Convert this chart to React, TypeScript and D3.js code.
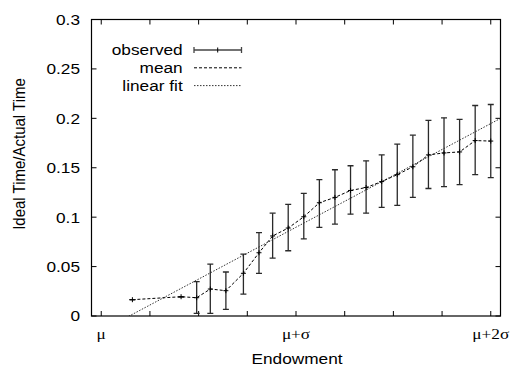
import * as d3 from "d3";

// x in units of sigma above the mean endowment
const endowment = [0.16, 0.41, 0.49, 0.56, 0.64, 0.73, 0.81, 0.88, 0.96, 1.04, 1.12, 1.2, 1.28, 1.36, 1.44, 1.52, 1.6, 1.68, 1.76, 1.84, 1.92, 2.0];
const meanRatio = [0.0165, 0.0195, 0.0185, 0.0273, 0.0256, 0.0432, 0.064, 0.081, 0.089, 0.1004, 0.1146, 0.12, 0.127, 0.13, 0.136, 0.143, 0.151, 0.163, 0.165, 0.166, 0.1775, 0.177];
const lowRatio = [0.0165, 0.0195, 0.0027, 0.0027, 0.0067, 0.0222, 0.0432, 0.0586, 0.066, 0.078, 0.0897, 0.093, 0.103, 0.104, 0.11, 0.112, 0.12, 0.129, 0.131, 0.133, 0.143, 0.14];
const highRatio = [0.0165, 0.0195, 0.0347, 0.0525, 0.0445, 0.0627, 0.0843, 0.104, 0.113, 0.124, 0.138, 0.148, 0.152, 0.157, 0.163, 0.174, 0.183, 0.198, 0.2005, 0.199, 0.213, 0.214];

const fitSlope = 0.1049;
const fitIntercept = -0.0151;

const yTicks = [0, 0.05, 0.1, 0.15, 0.2, 0.25, 0.3];
const xTicks = [0, 0.25, 0.5, 0.75, 1, 1.25, 1.5, 1.75, 2];
const xTickLabels = [
  { v: 0, label: "μ" },
  { v: 1, label: "μ+σ" },
  { v: 2, label: "μ+2σ" },
];
const legendItems = ["observed", "mean", "linear fit"];

const W = 512;
const H = 366;
const left = 91.5;
const right = 500.5;
const top = 19.5;
const bottom = 316;
const sx = 1.15; // text looks horizontally stretched in the reference
const sans = "'Liberation Sans', Arial, Helvetica, sans-serif";
const serif = "'Liberation Serif', 'Times New Roman', serif";

export default function App() {
  const x = d3.scaleLinear().domain([-0.05, 2.05]).range([left, right]);
  const y = d3.scaleLinear().domain([0, 0.3]).range([bottom, top]);

  const pts = endowment.map((e, i) => ({
    e,
    m: meanRatio[i],
    lo: lowRatio[i],
    hi: highRatio[i],
  }));

  const meanLine = d3
    .line<{ e: number; m: number }>()
    .x((d) => x(d.e))
    .y((d) => y(d.m))(pts);

  const fitLine = d3
    .line<number>()
    .x((d) => x(d))
    .y((d) => y(fitSlope * d + fitIntercept))(x.domain());

  const cap = 3;
  const tick = 5;

  return (
    <svg
      width={W}
      height={H}
      style={{ position: "absolute", left: 0, top: 0, background: "#fff" }}
    >
      <defs>
        <clipPath id="plotClip">
          <rect x={left} y={top} width={right - left} height={bottom - top} />
        </clipPath>
      </defs>

      {/* ticks on all four sides */}
      {yTicks.map((t) => (
        <g key={"yt" + t} stroke="#000" strokeWidth={1}>
          <line x1={left} x2={left + tick} y1={y(t)} y2={y(t)} />
          <line x1={right} x2={right - tick} y1={y(t)} y2={y(t)} />
        </g>
      ))}
      {xTicks.map((t) => (
        <g key={"xt" + t} stroke="#000" strokeWidth={1}>
          <line x1={x(t)} x2={x(t)} y1={bottom} y2={bottom - tick} />
          <line x1={x(t)} x2={x(t)} y1={top} y2={top + tick} />
        </g>
      ))}

      {/* y tick labels */}
      {yTicks.map((t) => (
        <text
          key={"yl" + t}
          transform={`translate(80,${y(t) + 5.4}) scale(${sx},1)`}
          textAnchor="end"
          fontFamily={sans}
          fontSize={15}
          fill="#000"
        >
          {String(t)}
        </text>
      ))}

      {/* x tick labels */}
      {xTickLabels.map((t) => (
        <text
          key={"xl" + t.v}
          transform={`translate(${x(t.v)},338.5) scale(${sx},1)`}
          textAnchor="middle"
          fontFamily={serif}
          fontSize={15}
          fill="#000"
        >
          {t.label}
        </text>
      ))}

      {/* axis titles */}
      <text
        transform={`translate(297,363.5) scale(${sx},1)`}
        textAnchor="middle"
        fontFamily={sans}
        fontSize={15}
      >
        Endowment
      </text>
      <text
        transform={`translate(24.5,154) rotate(-90) scale(1,${sx})`}
        textAnchor="middle"
        fontFamily={sans}
        fontSize={15}
      >
        Ideal Time/Actual Time
      </text>

      <g clipPath="url(#plotClip)">
        {/* linear fit */}
        <path
          d={fitLine ?? ""}
          fill="none"
          stroke="#333"
          strokeWidth={1}
          strokeDasharray="1.5,1.5"
        />
        {/* mean */}
        <path
          d={meanLine ?? ""}
          fill="none"
          stroke="#000"
          strokeWidth={1}
          strokeDasharray="3,2"
        />
        {/* observed with error bars */}
        {pts.map((p, i) => (
          <g key={"p" + i} stroke="#2a2a2a" strokeWidth={1.3}>
            <line x1={x(p.e)} x2={x(p.e)} y1={y(p.lo)} y2={y(p.hi)} />
            <line x1={x(p.e) - cap} x2={x(p.e) + cap} y1={y(p.lo)} y2={y(p.lo)} />
            <line x1={x(p.e) - cap} x2={x(p.e) + cap} y1={y(p.hi)} y2={y(p.hi)} />
            <line x1={x(p.e) - 2.5} x2={x(p.e) + 2.5} y1={y(p.m)} y2={y(p.m)} stroke="#000" strokeWidth={1} />
            <line x1={x(p.e)} x2={x(p.e)} y1={y(p.m) - 2.5} y2={y(p.m) + 2.5} stroke="#000" strokeWidth={1} />
          </g>
        ))}
      </g>

      {/* frame */}
      <rect
        x={left}
        y={top}
        width={right - left}
        height={bottom - top}
        fill="none"
        stroke="#000"
        strokeWidth={1.2}
      />

      {/* legend */}
      {legendItems.map((name, i) => {
        const ly = 50 + i * 17.8;
        return (
          <g key={name}>
            <text
              transform={`translate(182.7,${ly + 5.4}) scale(${sx},1)`}
              textAnchor="end"
              fontFamily={sans}
              fontSize={15}
            >
              {name}
            </text>
            {i === 0 && (
              <g stroke="#444" strokeWidth={1.3}>
                <line x1={194} x2={241.5} y1={ly} y2={ly} />
                <line x1={194} x2={194} y1={ly - 3} y2={ly + 3} />
                <line x1={241.5} x2={241.5} y1={ly - 3} y2={ly + 3} />
                <line x1={217.7} x2={217.7} y1={ly - 2.5} y2={ly + 2.5} stroke="#000" strokeWidth={1} />
              </g>
            )}
            {i === 1 && (
              <line x1={194} x2={241.5} y1={ly} y2={ly} stroke="#000" strokeWidth={1} strokeDasharray="3,2" />
            )}
            {i === 2 && (
              <line x1={194} x2={241.5} y1={ly} y2={ly} stroke="#333" strokeWidth={1} strokeDasharray="1.5,1.5" />
            )}
          </g>
        );
      })}
    </svg>
  );
}
